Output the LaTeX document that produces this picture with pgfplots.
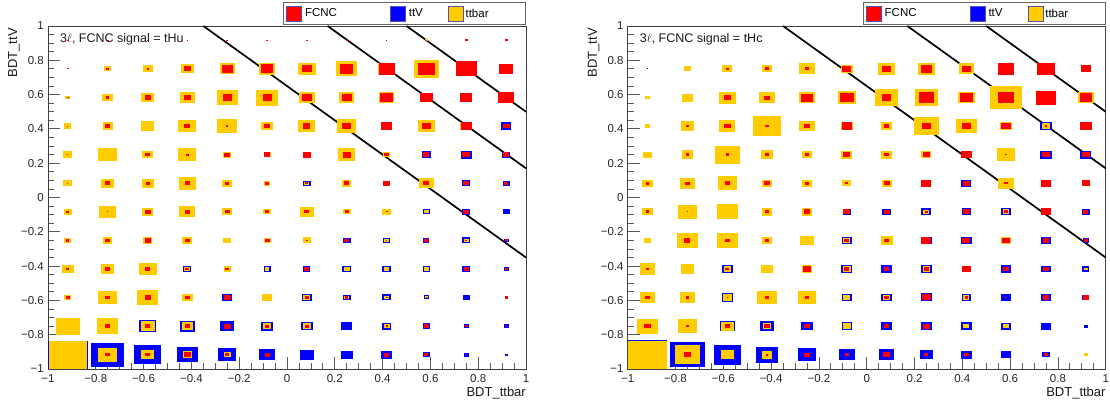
\documentclass[border=0pt]{standalone}
\usepackage{fontspec}
\setmainfont{Liberation Sans}
\usepackage{pgfplots}
\pgfplotsset{compat=1.18}
\definecolor{fcnc}{RGB}{255,0,0}
\definecolor{ttvc}{RGB}{0,0,255}
\definecolor{ttbc}{RGB}{255,204,0}
\definecolor{legb}{RGB}{90,80,170}
\pgfdeclareplotmark{cellbox}{%
  \pgfpathrectangle{\pgfpoint{-1.393\pgfplotmarksize}{-\pgfplotmarksize}}{\pgfpoint{2.786\pgfplotmarksize}{2\pgfplotmarksize}}%
  \pgfusepathqfill}
\pgfplotsset{
  boxes/.style={scatter, only marks, mark=cellbox, forget plot,
    scatter/use mapped color={draw=none, fill=#1},
    visualization depends on={14.29*\thisrow{f} \as \msz},
    scatter/@pre marker code/.append style={/tikz/mark size=\msz}},
  cut/.style={black, line width=1.7pt, forget plot},
  panel/.style={
    scale only axis, width=478pt, height=343pt,
    xmin=-1, xmax=1, ymin=-1, ymax=1,
    xtick={-1,-0.8,-0.6,-0.4,-0.2,0,0.2,0.4,0.6,0.8,1},
    ytick={-1,-0.8,-0.6,-0.4,-0.2,0,0.2,0.4,0.6,0.8,1},
    xticklabels={−1,−0.8,−0.6,−0.4,−0.2,0,0.2,0.4,0.6,0.8,1},
    yticklabels={−1,−0.8,−0.6,−0.4,−0.2,0,0.2,0.4,0.6,0.8,1},
    minor tick num=3,
    tick align=inside, tick pos=left,
    major tick length=12pt, minor tick length=6pt,
    tick style={black!65, line width=0.8pt},
    axis line style={black!75, line width=0.9pt},
    tick label style={font=\fontsize{11.5}{13}\selectfont, text=black!85},
    xticklabel style={inner sep=0pt, yshift=-5pt},
    yticklabel style={inner sep=0pt, xshift=-4pt},
    xlabel={BDT\_ttbar}, ylabel={BDT\_ttV},
    label style={font=\fontsize{13}{15}\selectfont, text=black!90},
    xlabel style={at={([yshift=-18pt]rel axis cs:1,0)}, anchor=north east, inner sep=0pt},
    ylabel style={at={([xshift=-34pt,yshift=-2pt]rel axis cs:0,1)}, anchor=east, inner sep=0pt},
    legend columns=3,
    legend style={at={([yshift=1pt]rel axis cs:1,1)}, anchor=south east,
      draw=black!60, line width=0.8pt, fill=white,
      inner xsep=3pt, inner ysep=3pt,
      font=\fontsize{11.5}{13}\selectfont,
      /tikz/column sep=0pt,
      nodes={inner sep=0pt}},
    legend cell align=left,
  }
}
\newcommand{\legimg}[1]{\addlegendimage{legend image code/.code={\draw[fill=#1, draw=legb, line width=0.8pt] (0pt,-7.5pt) rectangle (15pt,7.5pt);}}}
\begin{document}
\begin{tikzpicture}
%================ panel 1: tHu
\begin{axis}[panel, name=a1]
\legimg{fcnc}\addlegendentry{\makebox[88pt][l]{\hspace{3pt}FCNC}}
\legimg{ttvc}\addlegendentry{\makebox[42pt][l]{\hspace{3pt}ttV}}
\legimg{ttbc}\addlegendentry{\makebox[59pt][l]{\hspace{2pt}ttbar}}
% ttV
\addplot[boxes=ttvc] table[row sep=\\]{x y f\\
0.917 0.417 .25\\
0.583 0.25 .23\\ 0.75 0.25 .28\\ 0.917 0.25 .21\\
0.083 0.083 .19\\ 0.75 0.083 .21\\ 0.917 0.083 .18\\
0.583 -0.083 .19\\ 0.75 -0.083 .20\\ 0.917 -0.083 .18\\
0.25 -0.25 .19\\ 0.417 -0.25 .17\\ 0.583 -0.25 .15\\ 0.75 -0.25 .21\\ 0.917 -0.25 .13\\
-0.417 -0.417 .20\\ -0.083 -0.417 .18\\ 0.083 -0.417 .18\\ 0.25 -0.417 .22\\ 0.417 -0.417 .21\\ 0.583 -0.417 .18\\ 0.75 -0.417 .20\\ 0.917 -0.417 .13\\
-0.25 -0.583 .26\\ 0.083 -0.583 .24\\ 0.25 -0.583 .19\\ 0.417 -0.583 .21\\ 0.583 -0.583 .14\\ 0.75 -0.583 .17\\
-0.583 -0.75 .44\\ -0.417 -0.75 .39\\ -0.25 -0.75 .34\\ -0.083 -0.75 .31\\ 0.083 -0.75 .29\\ 0.25 -0.75 .27\\ 0.417 -0.75 .24\\ 0.583 -0.75 .19\\ 0.75 -0.75 .13\\ 0.917 -0.75 .13\\
-0.917 -0.917 .99\\ -0.75 -0.917 .84\\ -0.583 -0.917 .67\\ -0.417 -0.917 .53\\ -0.25 -0.917 .44\\ -0.083 -0.917 .39\\ 0.083 -0.917 .36\\ 0.25 -0.917 .29\\ 0.417 -0.917 .28\\ 0.583 -0.917 .18\\ 0.75 -0.917 .13\\ 0.917 -0.917 .08\\
};
% ttbar
\addplot[boxes=ttbc] table[row sep=\\]{x y f\\
0.583 0.917 .07\\
-0.75 0.75 .17\\ -0.583 0.75 .25\\ -0.417 0.75 .32\\ -0.25 0.75 .38\\ -0.083 0.75 .40\\ 0.083 0.75 .44\\ 0.25 0.75 .53\\ 0.417 0.75 .43\\ 0.583 0.75 .62\\ 0.75 0.75 .53\\
-0.917 0.583 .13\\ -0.75 0.583 .27\\ -0.583 0.583 .31\\ -0.417 0.583 .36\\ -0.25 0.583 .52\\ -0.083 0.583 .56\\ 0.083 0.583 .39\\ 0.25 0.583 .38\\ 0.417 0.583 .38\\
-0.917 0.417 .18\\ -0.75 0.417 .25\\ -0.583 0.417 .32\\ -0.417 0.417 .45\\ -0.25 0.417 .49\\ -0.083 0.417 .29\\ 0.083 0.417 .43\\ 0.25 0.417 .48\\ 0.417 0.417 .28\\ 0.583 0.417 .43\\ 0.75 0.417 .29\\
-0.917 0.25 .23\\ -0.75 0.25 .47\\ -0.583 0.25 .27\\ -0.417 0.25 .46\\ -0.25 0.25 .21\\ -0.083 0.25 .17\\ 0.25 0.25 .43\\ 0.417 0.25 .19\\
-0.917 0.083 .22\\ -0.75 0.083 .32\\ -0.583 0.083 .30\\ -0.417 0.083 .44\\ -0.25 0.083 .25\\ -0.083 0.083 .16\\ 0.083 0.083 .12\\ 0.25 0.083 .23\\ 0.583 0.083 .36\\
-0.917 -0.083 .21\\ -0.75 -0.083 .42\\ -0.583 -0.083 .27\\ -0.417 -0.083 .40\\ -0.25 -0.083 .25\\ -0.083 -0.083 .19\\ 0.083 -0.083 .36\\ 0.25 -0.083 .19\\ 0.417 -0.083 .21\\ 0.583 -0.083 .12\\
-0.917 -0.25 .18\\ -0.75 -0.25 .22\\ -0.583 -0.25 .23\\ -0.417 -0.25 .25\\ -0.25 -0.25 .19\\ -0.083 -0.25 .18\\ 0.083 -0.25 .21\\ 0.417 -0.25 .13\\ 0.75 -0.25 .13\\
-0.917 -0.417 .29\\ -0.75 -0.417 .33\\ -0.583 -0.417 .45\\ -0.417 -0.417 .15\\ -0.25 -0.417 .18\\ -0.083 -0.417 .11\\ 0.25 -0.417 .16\\ 0.417 -0.417 .13\\ 0.583 -0.417 .13\\
-0.917 -0.583 .18\\ -0.75 -0.583 .47\\ -0.583 -0.583 .52\\ -0.417 -0.583 .27\\ -0.083 -0.583 .24\\ 0.083 -0.583 .18\\ 0.25 -0.583 .13\\ 0.417 -0.583 .13\\ 0.583 -0.583 .07\\
-0.917 -0.75 .60\\ -0.75 -0.75 .54\\ -0.583 -0.75 .35\\ -0.417 -0.75 .27\\ -0.083 -0.75 .19\\ 0.083 -0.75 .21\\ 0.417 -0.75 .15\\
-0.917 -0.917 .97\\ -0.75 -0.917 .48\\ -0.583 -0.917 .32\\ -0.417 -0.917 .23\\ -0.25 -0.917 .18\\
};
% FCNC
\addplot[boxes=fcnc] table[row sep=\\]{x y f\\
-0.917 0.917 .04\\ -0.75 0.917 .04\\ -0.583 0.917 .04\\ -0.417 0.917 .04\\ -0.25 0.917 .04\\ -0.083 0.917 .04\\ 0.083 0.917 .04\\ 0.25 0.917 .04\\ 0.417 0.917 .04\\ 0.583 0.917 .05\\ 0.75 0.917 .07\\ 0.917 0.917 .07\\
-0.917 0.75 .04\\ -0.75 0.75 .08\\ -0.583 0.75 .05\\ -0.417 0.75 .17\\ -0.25 0.75 .27\\ -0.083 0.75 .31\\ 0.083 0.75 .25\\ 0.25 0.75 .33\\ 0.417 0.75 .40\\ 0.583 0.75 .44\\ 0.75 0.75 .52\\ 0.917 0.75 .35\\
-0.917 0.583 .05\\ -0.75 0.583 .08\\ -0.583 0.583 .15\\ -0.417 0.583 .18\\ -0.25 0.583 .23\\ -0.083 0.583 .23\\ 0.083 0.583 .25\\ 0.25 0.583 .24\\ 0.417 0.583 .33\\ 0.583 0.583 .33\\ 0.75 0.583 .31\\ 0.917 0.583 .40\\
-0.917 0.417 .03\\ -0.75 0.417 .12\\ -0.417 0.417 .15\\ -0.25 0.417 .04\\ -0.083 0.417 .16\\ 0.083 0.417 .18\\ 0.25 0.417 .22\\ 0.417 0.417 .26\\ 0.583 0.417 .24\\ 0.75 0.417 .28\\ 0.917 0.417 .17\\
-0.917 0.25 .03\\ -0.583 0.25 .13\\ -0.417 0.25 .07\\ -0.25 0.25 .14\\ -0.083 0.25 .16\\ 0.083 0.25 .21\\ 0.25 0.25 .21\\ 0.417 0.25 .13\\ 0.583 0.25 .15\\ 0.75 0.25 .19\\ 0.917 0.25 .15\\
-0.917 0.083 .03\\ -0.75 0.083 .13\\ -0.583 0.083 .10\\ -0.417 0.083 .13\\ -0.25 0.083 .11\\ -0.083 0.083 .11\\ 0.083 0.083 .08\\ 0.25 0.083 .13\\ 0.417 0.083 .19\\ 0.583 0.083 .15\\ 0.75 0.083 .15\\ 0.917 0.083 .11\\
-0.917 -0.083 .08\\ -0.75 -0.083 .03\\ -0.583 -0.083 .15\\ -0.417 -0.083 .13\\ -0.25 -0.083 .12\\ -0.083 -0.083 .11\\ 0.083 -0.083 .12\\ 0.25 -0.083 .11\\ 0.417 -0.083 .05\\ 0.75 -0.083 .15\\
-0.917 -0.25 .08\\ -0.75 -0.25 .12\\ -0.583 -0.25 .15\\ -0.417 -0.25 .13\\ -0.083 -0.25 .13\\ 0.083 -0.25 .04\\ 0.25 -0.25 .13\\ 0.417 -0.25 .04\\ 0.583 -0.25 .11\\ 0.75 -0.25 .04\\ 0.917 -0.25 .07\\
-0.917 -0.417 .08\\ -0.75 -0.417 .12\\ -0.583 -0.417 .13\\ -0.417 -0.417 .10\\ -0.25 -0.417 .10\\ 0.083 -0.417 .12\\ 0.75 -0.417 .12\\ 0.917 -0.417 .08\\
-0.917 -0.583 .10\\ -0.75 -0.583 .13\\ -0.583 -0.583 .15\\ -0.417 -0.583 .13\\ -0.25 -0.583 .18\\ 0.083 -0.583 .10\\ 0.25 -0.583 .08\\ 0.417 -0.583 .05\\ 0.583 -0.583 .03\\ 0.917 -0.583 .08\\
-0.75 -0.75 .12\\ -0.583 -0.75 .14\\ -0.417 -0.75 .14\\ -0.25 -0.75 .18\\ -0.083 -0.75 .11\\ 0.083 -0.75 .11\\ 0.25 -0.75 .03\\ 0.417 -0.75 .05\\ 0.583 -0.75 .12\\ 0.75 -0.75 .08\\ 0.917 -0.75 .04\\
-0.75 -0.917 .12\\ -0.583 -0.917 .11\\ -0.417 -0.917 .17\\ -0.25 -0.917 .11\\ -0.083 -0.917 .13\\ 0.417 -0.917 .14\\ 0.583 -0.917 .10\\ 0.75 -0.917 .03\\ 0.917 -0.917 .03\\
};
\addplot[cut] coordinates {(-0.35,1) (1,-0.35)};
\addplot[cut] coordinates {(0.17,1) (1,0.17)};
\addplot[cut] coordinates {(0.5,1) (1,0.5)};
\node[anchor=base west, inner sep=0pt, font=\fontsize{12.5}{14}\selectfont, text=black!90] at (rel axis cs:0.025,0.953) {3$\ell$, FCNC signal = tHu};
\end{axis}
%================ panel 2: tHc
\begin{axis}[panel, name=a2, at={(579.7pt,0pt)}]
\legimg{fcnc}\addlegendentry{\makebox[88pt][l]{\hspace{3pt}FCNC}}
\legimg{ttvc}\addlegendentry{\makebox[42pt][l]{\hspace{3pt}ttV}}
\legimg{ttbc}\addlegendentry{\makebox[59pt][l]{\hspace{2pt}ttbar}}
% ttV
\addplot[boxes=ttvc] table[row sep=\\]{x y f\\
-0.917 0.75 .03\\
0.75 0.417 .29\\
0.75 0.25 .28\\ 0.917 0.25 .28\\
0.417 0.083 .25\\
-0.083 -0.083 .21\\ 0.083 -0.083 .22\\ 0.25 -0.083 .25\\ 0.417 -0.083 .23\\ 0.583 -0.083 .23\\ 0.917 -0.083 .21\\
-0.083 -0.25 .25\\ 0.25 -0.25 .27\\ 0.417 -0.25 .27\\ 0.583 -0.25 .24\\ 0.75 -0.25 .23\\ 0.917 -0.25 .15\\
-0.583 -0.417 .27\\ -0.083 -0.417 .28\\ 0.083 -0.417 .27\\ 0.25 -0.417 .27\\ 0.583 -0.417 .26\\ 0.75 -0.417 .24\\ 0.917 -0.417 .18\\
-0.583 -0.583 .29\\ -0.083 -0.583 .27\\ 0.083 -0.583 .27\\ 0.25 -0.583 .28\\ 0.417 -0.583 .23\\ 0.583 -0.583 .25\\ 0.75 -0.583 .25\\ 0.917 -0.583 .17\\
-0.583 -0.75 .36\\ -0.417 -0.75 .33\\ -0.25 -0.75 .29\\ -0.083 -0.75 .27\\ 0.083 -0.75 .27\\ 0.25 -0.75 .29\\ 0.417 -0.75 .27\\ 0.583 -0.75 .25\\ 0.75 -0.75 .25\\ 0.917 -0.75 .11\\
-0.917 -0.917 1.0\\ -0.75 -0.917 .88\\ -0.583 -0.917 .69\\ -0.417 -0.917 .57\\ -0.25 -0.917 .46\\ -0.083 -0.917 .39\\ 0.083 -0.917 .38\\ 0.25 -0.917 .32\\ 0.417 -0.917 .27\\ 0.583 -0.917 .23\\ 0.75 -0.917 .19\\
};
% ttbar
\addplot[boxes=ttbc] table[row sep=\\]{x y f\\
-0.75 0.75 .17\\ -0.583 0.75 .25\\ -0.417 0.75 .25\\ -0.25 0.75 .38\\ -0.083 0.75 .30\\ 0.083 0.75 .42\\ 0.25 0.75 .42\\ 0.417 0.75 .39\\
-0.917 0.583 .11\\ -0.75 0.583 .28\\ -0.583 0.583 .42\\ -0.417 0.583 .39\\ -0.25 0.583 .40\\ -0.083 0.583 .45\\ 0.083 0.583 .60\\ 0.25 0.583 .59\\ 0.417 0.583 .41\\ 0.583 0.583 .80\\ 0.917 0.583 .40\\
-0.917 0.417 .14\\ -0.75 0.417 .34\\ -0.583 0.417 .40\\ -0.417 0.417 .69\\ -0.25 0.417 .38\\ -0.083 0.417 .31\\ 0.083 0.417 .27\\ 0.25 0.417 .62\\ 0.417 0.417 .52\\ 0.583 0.417 .28\\ 0.75 0.417 .21\\
-0.917 0.25 .21\\ -0.75 0.25 .29\\ -0.583 0.25 .63\\ -0.417 0.25 .32\\ -0.25 0.25 .23\\ -0.083 0.25 .28\\ 0.083 0.25 .28\\ 0.25 0.25 .25\\ 0.583 0.25 .44\\
-0.917 0.083 .26\\ -0.75 0.083 .39\\ -0.583 0.083 .48\\ -0.417 0.083 .23\\ -0.25 0.083 .23\\ -0.083 0.083 .22\\ 0.083 0.083 .25\\ 0.583 0.083 .40\\
-0.917 -0.083 .26\\ -0.75 -0.083 .48\\ -0.583 -0.083 .53\\ -0.417 -0.083 .27\\ -0.25 -0.083 .27\\ 0.25 -0.083 .15\\ 0.583 -0.083 .16\\
-0.917 -0.25 .18\\ -0.75 -0.25 .54\\ -0.583 -0.25 .51\\ -0.417 -0.25 .27\\ -0.25 -0.25 .34\\ -0.083 -0.25 .18\\ 0.083 -0.25 .30\\ 0.583 -0.25 .23\\
-0.917 -0.417 .39\\ -0.75 -0.417 .34\\ -0.583 -0.417 .19\\ -0.417 -0.417 .29\\ -0.25 -0.417 .27\\ -0.083 -0.417 .20\\ 0.25 -0.417 .19\\ 0.917 -0.417 .10\\
-0.917 -0.583 .39\\ -0.75 -0.583 .38\\ -0.583 -0.583 .23\\ -0.417 -0.583 .48\\ -0.25 -0.583 .45\\ -0.083 -0.583 .17\\ 0.083 -0.583 .19\\ 0.417 -0.583 .15\\
-0.917 -0.75 .53\\ -0.75 -0.75 .50\\ -0.583 -0.75 .31\\ -0.417 -0.75 .22\\ -0.083 -0.75 .20\\ 0.417 -0.75 .15\\ 0.583 -0.75 .14\\
-0.917 -0.917 .99\\ -0.75 -0.917 .65\\ -0.583 -0.917 .33\\ -0.417 -0.917 .27\\ 0.917 -0.917 .09\\
};
% FCNC
\addplot[boxes=fcnc] table[row sep=\\]{x y f\\
-0.583 0.75 .09\\ -0.417 0.75 .10\\ -0.25 0.75 .10\\ -0.083 0.75 .23\\ 0.083 0.75 .22\\ 0.25 0.75 .28\\ 0.417 0.75 .21\\ 0.583 0.75 .40\\ 0.75 0.75 .44\\ 0.917 0.75 .25\\
-0.583 0.583 .16\\ -0.417 0.583 .14\\ -0.25 0.583 .28\\ -0.083 0.583 .34\\ 0.083 0.583 .22\\ 0.25 0.583 .39\\ 0.417 0.583 .31\\ 0.583 0.583 .40\\ 0.75 0.583 .49\\ 0.917 0.583 .29\\
-0.75 0.417 .08\\ -0.583 0.417 .16\\ -0.417 0.417 .10\\ -0.25 0.417 .14\\ -0.083 0.417 .27\\ 0.083 0.417 .12\\ 0.25 0.417 .23\\ 0.417 0.417 .21\\ 0.583 0.417 .23\\ 0.75 0.417 .07\\ 0.917 0.417 .29\\
-0.75 0.25 .08\\ -0.583 0.25 .09\\ -0.417 0.25 .10\\ -0.25 0.25 .12\\ -0.083 0.25 .17\\ 0.083 0.25 .12\\ 0.25 0.25 .17\\ 0.417 0.25 .27\\ 0.583 0.25 .03\\ 0.75 0.25 .19\\ 0.917 0.25 .19\\
-0.917 0.083 .09\\ -0.75 0.083 .12\\ -0.583 0.083 .14\\ -0.417 0.083 .14\\ -0.25 0.083 .10\\ -0.083 0.083 .08\\ 0.083 0.083 .15\\ 0.25 0.083 .25\\ 0.417 0.083 .17\\ 0.583 0.083 .08\\ 0.75 0.083 .25\\ 0.917 0.083 .21\\
-0.917 -0.083 .09\\ -0.75 -0.083 .03\\ -0.417 -0.083 .10\\ -0.25 -0.083 .16\\ -0.083 -0.083 .17\\ 0.083 -0.083 .15\\ 0.25 -0.083 .08\\ 0.417 -0.083 .17\\ 0.583 -0.083 .09\\ 0.75 -0.083 .23\\ 0.917 -0.083 .13\\
-0.75 -0.25 .15\\ -0.583 -0.25 .12\\ -0.417 -0.25 .08\\ -0.083 -0.25 .13\\ 0.083 -0.25 .13\\ 0.25 -0.25 .25\\ 0.417 -0.25 .20\\ 0.583 -0.25 .18\\ 0.75 -0.25 .17\\ 0.917 -0.25 .09\\
-0.917 -0.417 .09\\ -0.583 -0.417 .10\\ -0.25 -0.417 .21\\ -0.083 -0.417 .13\\ 0.083 -0.417 .13\\ 0.25 -0.417 .12\\ 0.417 -0.417 .23\\ 0.583 -0.417 .17\\ 0.75 -0.417 .13\\
-0.917 -0.583 .13\\ -0.75 -0.583 .08\\ -0.583 -0.583 .04\\ -0.417 -0.583 .10\\ -0.25 -0.583 .10\\ 0.083 -0.583 .12\\ 0.25 -0.583 .21\\ 0.417 -0.583 .08\\ 0.583 -0.583 .03\\ 0.75 -0.583 .17\\ 0.917 -0.583 .16\\
-0.917 -0.75 .16\\ -0.75 -0.75 .08\\ -0.583 -0.75 .13\\ -0.417 -0.75 .13\\ -0.25 -0.75 .13\\ 0.083 -0.75 .12\\ 0.25 -0.75 .17\\
-0.75 -0.917 .18\\ -0.417 -0.917 .07\\ -0.25 -0.917 .15\\ -0.083 -0.917 .10\\ 0.083 -0.917 .17\\ 0.25 -0.917 .10\\ 0.417 -0.917 .12\\ 0.75 -0.917 .12\\
};
\addplot[cut] coordinates {(-0.35,1) (1,-0.35)};
\addplot[cut] coordinates {(0.17,1) (1,0.17)};
\addplot[cut] coordinates {(0.5,1) (1,0.5)};
\node[anchor=base west, inner sep=0pt, font=\fontsize{12.5}{14}\selectfont, text=black!90] at (rel axis cs:0.025,0.953) {3$\ell$, FCNC signal = tHc};
\end{axis}
\pgfresetboundingbox
\path (-48pt,-34pt) rectangle (1062pt,369pt);
\end{tikzpicture}
\end{document}
